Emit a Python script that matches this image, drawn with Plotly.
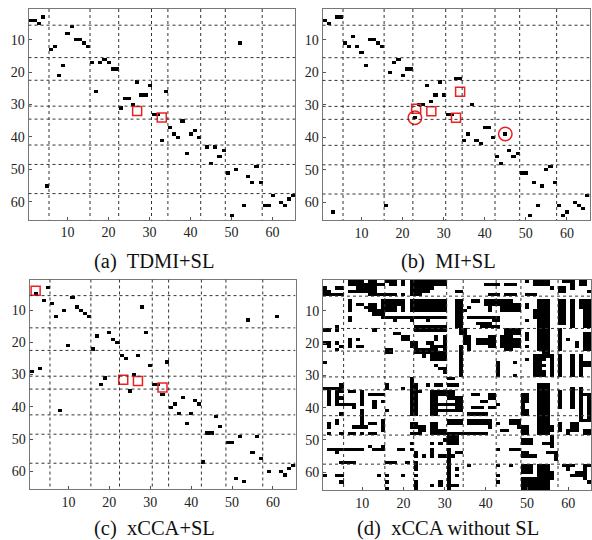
import plotly.graph_objects as go

TICKS = [10, 20, 30, 40, 50, 60]
SPLITS = [5.5, 15.5, 22.5, 30.5, 34.5, 42.5, 48.5, 57.5]
CAPTIONS = ["(a)  TDMI+SL", "(b)  MI+SL", "(c)  xCCA+SL", "(d)  xCCA without SL"]

# (column, row) of each selected cell
A_CELLS = [(1,4),(2,4),(3,5),(4,3),(10,8),(11,6),(12,10),(13,10),(14,11),(15,12),(6,13),(7,12),
    (16,17),(18,17),(19,16),(20,17),(21,19),(22,19),(9,18),(8,21),(17,26),(27,23),(30,24),(28,27),(29,27),
    (34,26),(24,28),(25,28),(26,30),(23,31),(31,33),(32,33),(38,35),(35,37),(36,39),(37,40),(40,39),(41,38),
    (42,40),(33,41),(44,43),(46,43),(48,44),(47,46),(39,45),(45,48),(49,51),(51,50),(54,52),(55,54),(56,49),
    (57,54),(58,61),(59,61),(60,58),(62,60),(63,61),(64,59),(65,58),(50,64),(53,61),(52,11),(5,55)]
B_CELLS = [(1,4),(2,5),(4,3),(5,3),(6,11),(7,12),(8,9),(9,12),(10,14),(11,18),(12,10),(13,10),(14,11),(15,12),
    (17,20),(18,17),(19,16),(20,21),(21,19),(22,19),(16,61),(3,63),(23,34),(24,30),(25,30),(26,24),(27,29),(28,27),
    (29,23),(30,27),(31,33),(32,33),(33,22),(34,22),(35,41),(36,39),(37,30),(38,41),(39,42),(40,37),(41,37),(42,40),
    (43,46),(44,48),(45,39),(46,44),(47,46),(48,45),(49,51),(50,51),(51,64),(52,54),(53,61),(54,55),(55,50),(56,49),
    (57,54),(58,61),(59,64),(60,63),(62,60),(63,61),(64,62),(65,58)]
C_CELLS = [(5,3),(2,5),(4,7),(6,8),(7,12),(9,10),(11,6),(12,9),(13,10),(14,11),(15,12),(10,21),(16,22),(17,18),
    (20,17),(21,19),(22,20),(23,24),(24,25),(25,35),(26,30),(27,24),(28,9),(29,17),(30,27),(31,33),(32,33),(33,36),
    (34,26),(35,40),(36,39),(37,42),(38,37),(39,45),(40,42),(41,38),(42,39),(43,57),(44,48),(45,48),(46,43),(47,46),
    (49,51),(50,51),(52,49),(51,62),(53,63),(54,13),(55,54),(56,49),(57,56),(59,60),(61,12),(62,60),(63,61),(64,59),
    (65,58),(1,29),(3,28),(8,41),(18,33),(19,31)]
# (first column, last column, first row, last row) of black blocks
D_BLOCKS = [
    (7,10,1,1),(12,13,1,1),(16,16,1,1),(17,18,1,2),(20,20,1,2),(22,30,1,2),(7,15,2,2),(9,13,3,3),(22,27,3,3),(7,13,4,4),(22,26,4,4),(12,15,5,5),(16,18,5,5),(20,20,5,5),(22,24,5,5),
    (1,1,3,5),(2,2,4,5),(4,5,3,3),(4,5,5,5),(3,3,5,5),
    (7,7,7,10),(7,7,12,13),(9,10,8,8),(11,11,9,9),(12,13,8,10),(13,15,10,11),(15,20,7,8),(15,18,9,10),(20,20,9,10),(22,30,7,10),(15,30,12,12),
    (18,18,13,13),(22,22,13,13),(26,26,13,13),(23,30,15,16),(1,2,16,16),(4,4,15,16),(13,13,16,16),(18,19,17,17),(20,21,18,19),(22,23,20,21),
    (26,27,20,20),(28,28,18,19),(30,30,18,22),(27,29,21,21),(23,28,22,23),(25,25,24,24),(27,29,23,25),(30,30,23,25),(28,28,27,27),(29,30,28,28),(30,30,29,29),
    (1,2,20,20),(4,4,20,20),(2,2,21,21),(5,5,21,21),(7,7,19,21),(9,9,19,19),(9,10,21,21),(4,4,22,22),(16,17,22,23),(1,1,26,26),
    (22,22,31,34),(23,23,33,34),(26,26,33,33),(28,28,33,33),(29,29,33,33),(31,32,31,31),(31,33,33,33),(16,16,33,34),(20,20,34,34),
    (1,5,34,34),(5,5,33,33),(2,2,35,39),(4,4,35,39),(5,5,35,35),(5,5,37,37),(5,6,39,39),(7,8,35,35),(10,10,35,39),(12,14,36,36),(13,13,38,40),(15,15,36,36),(15,15,38,38),(7,8,39,39),(8,8,40,40),
    (10,10,41,45),(5,5,42,42),(4,4,44,45),(15,15,44,45),(16,16,41,41),(22,23,35,42),(24,24,35,35),(27,28,35,42),(27,32,35,36),(29,32,39,39),(29,32,41,41),(33,34,37,41),(31,34,37,37),
    (2,2,45,46),(4,4,44,45),(8,11,46,46),(12,13,45,45),(15,15,45,47),(2,2,48,48),(5,5,48,48),(7,8,48,48),(10,10,48,48),(12,13,48,48),
    (22,23,45,46),(24,25,46,47),(22,24,48,48),(27,28,45,48),(28,30,47,48),(31,34,44,45),(30,40,48,48),(36,41,44,45),(41,41,46,46),(36,37,42,42),(39,40,42,42),(43,43,45,45),
    (31,33,49,51),(27,27,51,51),(29,29,51,51),(30,30,50,50),(22,22,51,51),
    (2,7,53,53),(4,4,54,54),(8,9,53,53),(10,10,53,53),(12,12,52,52),(15,15,52,52),(13,15,53,53),(19,20,53,53),(22,22,53,53),(23,23,54,55),(25,25,55,55),(27,27,53,55),(29,32,55,55),(31,31,53,56),(33,34,54,54),
    (5,8,57,57),(16,18,57,57),(21,21,57,57),(23,23,57,59),(23,23,61,61),(1,1,61,61),(4,5,61,61),(5,5,63,63),(14,14,61,61),(16,16,61,61),(20,20,61,61),(16,16,63,63),(16,16,65,65),(23,23,63,65),
    (27,27,64,64),(29,29,63,64),(31,31,57,65),(33,33,59,59),(33,33,61,61),(32,33,64,64),
    (33,34,7,12),(35,35,10,10),(33,34,13,15),(34,35,16,17),(35,36,18,20),(36,36,21,22),(34,34,21,30),
    (37,38,7,7),(36,36,9,9),(40,43,7,8),(41,41,9,10),(44,44,7,10),(45,46,7,10),(47,48,8,10),(36,43,12,12),(38,41,14,14),(39,43,15,15),(42,43,13,13),(45,48,16,17),
    (38,40,19,20),(41,42,18,21),(44,44,18,21),(45,46,18,22),(47,48,19,21),(33,34,4,4),(40,43,2,2),(45,47,2,2),(41,43,5,5),(45,47,5,5),
    (50,50,1,1),(52,55,1,2),(56,56,3,3),(58,59,3,4),(59,61,1,1),(61,61,2,3),(63,64,1,2),(65,65,4,4),(50,52,5,5),
    (50,50,8,9),(50,50,13,13),(50,50,17,19),(50,50,21,21),(53,55,7,22),(52,53,10,12),(54,55,23,24),(58,59,7,14),(58,58,16,22),(60,60,19,19),(61,61,7,15),(63,65,7,9),(64,65,10,15),(64,65,17,22),(62,62,20,21),
    (43,43,26,29),(47,47,26,26),(47,47,30,30),(43,43,30,30),(50,50,25,25),(52,54,24,25),(52,53,26,30),(53,54,29,30),(54,54,27,27),(56,56,24,30),(58,58,24,30),(61,61,24,30),(63,63,24,30),(64,65,26,27),
    (49,50,36,38),(49,50,41,42),(49,49,39,40),(53,55,33,48),(56,56,46,47),(49,50,46,48),(58,58,35,40),(61,61,34,40),(63,63,34,44),(64,65,36,36),(65,65,36,44),(64,65,44,44),
    (37,38,36,36),(41,42,36,37),(39,40,38,38),(43,43,39,39),(37,39,40,40),(41,42,40,40),(37,38,42,42),
    (58,58,45,47),(60,60,47,48),(61,62,45,47),(64,65,47,48),(46,48,44,45),(48,48,46,46),(44,45,47,47),
    (49,51,50,51),(54,55,51,51),(56,56,49,52),(55,57,54,54),(57,57,55,56),(49,50,54,55),(51,52,55,55),(43,43,53,53),(46,48,53,53),
    (49,51,58,60),(49,52,62,65),(53,55,58,65),(55,56,60,62),(59,61,58,58),(60,60,59,59),(64,65,58,58),(62,63,60,61),(64,64,59,62),(61,61,61,61),(65,65,63,63),
    (43,43,58,58),(43,43,61,61),(43,43,63,63),(36,36,58,58),(46,46,58,58),
]
A_SQUARES = ([27, 33], [32, 34])
B_SQUARES = ([34, 23.3, 27, 33], [26, 31.2, 32, 34])
C_SQUARES = ([2, 23.4, 27, 33], [4, 31.6, 32, 34])
B_CIRCLES = ([23, 45], [34, 39])

N = 65
def mat_cells(cells):
    z = [[0]*N for _ in range(N)]
    for c, r in cells:
        z[r-1][c-1] = 1
    return z
def mat_blocks(blocks):
    z = [[0]*N for _ in range(N)]
    for c1, c2, r1, r2 in blocks:
        for r in range(r1, r2+1):
            for c in range(c1, c2+1):
                z[r-1][c-1] = 1
    return z

W, H = 592, 540
BOXES = [(28.5, 295, 9, 219.5), (322.5, 589.5, 9, 220), (29.5, 295.5, 279.5, 489), (323, 591, 280, 490)]
CAP_Y = [261, 261, 528, 528]
CAP_X = [154, 448, 154, 448]
MATS = [mat_cells(A_CELLS), mat_cells(B_CELLS), mat_cells(C_CELLS), mat_blocks(D_BLOCKS)]
SQS = [A_SQUARES, B_SQUARES, C_SQUARES, None]
SERIF = "Liberation Serif"

fig = go.Figure()
layout = dict(width=W, height=H, margin=dict(l=0, r=0, t=0, b=0), paper_bgcolor="white", plot_bgcolor="white",
              showlegend=False, font=dict(family=SERIF, size=14, color="#222"))
shapes, annots = [], []
idx = list(range(1, N+1))
for i, (l, r, t, b) in enumerate(BOXES):
    s = "" if i == 0 else str(i+1)
    fig.add_trace(go.Heatmap(z=MATS[i], x=idx, y=idx, colorscale=[[0, "white"], [1, "black"]], zmin=0, zmax=1,
                             showscale=False, hoverinfo="skip", xaxis="x"+s, yaxis="y"+s))
    if SQS[i]:
        fig.add_trace(go.Scatter(x=SQS[i][0], y=SQS[i][1], mode="markers", xaxis="x"+s, yaxis="y"+s, hoverinfo="skip",
                                 marker=dict(symbol="square-open", size=9, color="#f02020", line=dict(width=1.5, color="#f02020"))))
    if i == 1:
        fig.add_trace(go.Scatter(x=B_CIRCLES[0], y=B_CIRCLES[1], mode="markers", xaxis="x2", yaxis="y2", hoverinfo="skip",
                                 marker=dict(symbol="circle-open", size=13.5, color="#f02020", line=dict(width=1.5, color="#f02020"))))
    common = dict(showgrid=False, zeroline=False, showline=True, linecolor="#777", linewidth=1, mirror=True,
                  ticks="inside", ticklen=3, tickcolor="#555", tickvals=TICKS, tickfont=dict(family=SERIF, size=14, color="#222"))
    layout["xaxis"+s] = dict(common, domain=[l/W, r/W], range=[0.5, 65.5], anchor="y"+s)
    layout["yaxis"+s] = dict(common, domain=[1-b/H, 1-t/H], range=[65.5, 0.5], anchor="x"+s)
    for v in SPLITS:
        line = dict(color="#333", width=1, dash="dot")
        shapes.append(dict(type="line", xref="x"+s, yref="y"+s, x0=v, x1=v, y0=0.5, y1=65.5, line=line))
        shapes.append(dict(type="line", xref="x"+s, yref="y"+s, x0=0.5, x1=65.5, y0=v, y1=v, line=line))
    annots.append(dict(text=CAPTIONS[i], xref="paper", yref="paper", x=CAP_X[i]/W, y=1-CAP_Y[i]/H, showarrow=False,
                       font=dict(family=SERIF, size=20.5, color="#111"), xanchor="center", yanchor="middle"))
layout["shapes"] = shapes
layout["annotations"] = annots
fig.update_layout(**layout)
fig.write_html("out.html", post_script="document.body.style.margin='0';", config={"displayModeBar": False})
